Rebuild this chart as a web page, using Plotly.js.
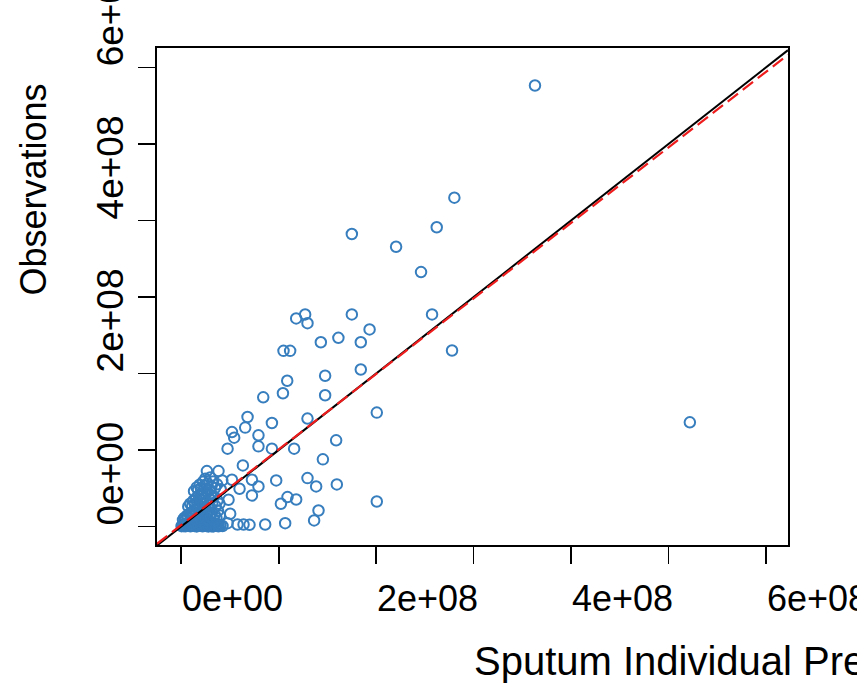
<!DOCTYPE html>
<html><head><meta charset="utf-8">
<script src="https://cdn.plot.ly/plotly-3.0.1.min.js"></script>
<style>html,body{margin:0;padding:0;background:#fff;overflow:hidden}#chart{width:857px;height:685px}</style>
</head><body><div id="chart"></div>
<script>
// Values in units of 1e8
const UNIT = 1e8;
const predX = [
 3.629,5.218,2.802,2.621,2.204,1.750,2.460,2.573,2.778,1.932,1.750,1.842,1.612,1.432,1.271,1.179,1.295,1.049,1.117,1.842,
 1.476,1.087,1.476,1.043,0.841,2.006,1.295,0.680,0.930,0.656,0.520,0.543,0.792,0.475,0.792,0.930,1.158,1.589,1.453,0.632,
 0.263,0.382,0.246,0.520,0.725,0.974,1.295,1.384,1.596,0.792,0.725,0.598,0.485,1.090,1.179,1.022,2.006,1.408,1.363,1.066,
 0.861,0.700,0.639,0.577,0.502,0.475,0.382,
 0.003,0.012,0.021,0.034,0.041,0.055,0.063,0.072,0.086,0.094,0.105,0.117,0.128,0.136,0.149,0.158,0.167,0.179,0.188,0.196,
 0.207,0.219,0.226,0.238,0.247,0.256,0.268,0.277,0.289,0.298,0.307,0.318,0.327,0.339,0.352,0.366,0.381,0.402,0.423,
 0.018,0.031,0.047,0.058,0.069,0.083,0.097,0.108,0.121,0.133,0.144,0.156,0.171,0.182,0.193,0.204,0.216,0.229,0.241,0.252,
 0.263,0.276,0.287,0.301,0.314,0.329,0.343,0.361,0.377,0.395,
 0.072,0.091,0.112,0.124,0.139,0.152,0.166,0.178,0.191,0.203,0.214,0.226,0.238,0.251,0.264,0.277,0.289,0.303,0.318,0.334,
 0.352,0.371,0.392,
 0.131,0.158,0.172,0.189,0.201,0.222,0.236,0.258,0.271,0.293,0.309,0.327,0.346,0.298,0.367,0.404,0.421
];
const obsY = [
 5.763,1.361,4.297,3.910,3.656,3.822,3.325,2.771,2.300,2.575,2.771,2.408,2.465,2.408,2.771,2.719,2.657,2.295,2.295,2.051,
 1.970,1.904,1.715,1.741,1.688,1.488,1.410,1.431,1.352,1.292,1.234,1.161,1.191,1.017,1.047,1.017,1.017,1.126,0.877,0.798,
 0.724,0.724,0.624,0.611,0.611,0.602,0.632,0.524,0.550,0.524,0.406,0.493,0.349,0.384,0.353,0.297,0.327,0.209,0.079,0.043,
 0.026,0.022,0.026,0.026,0.166,0.043,0.026,
 0.004,0.018,0.006,0.027,0.002,0.015,0.041,0.008,0.022,0.003,0.037,0.012,0.054,0.006,0.028,0.001,0.046,0.017,0.068,0.009,
 0.031,0.002,0.044,0.019,0.061,0.007,0.025,0.001,0.049,0.013,0.004,0.036,0.001,0.021,0.008,0.029,0.003,0.012,0.006,
 0.085,0.112,0.094,0.142,0.121,0.168,0.103,0.187,0.134,0.215,0.097,0.158,0.232,0.118,0.176,0.091,0.205,0.138,0.247,0.101,
 0.169,0.088,0.226,0.129,0.184,0.097,0.152,0.109,0.205,0.143,
 0.262,0.298,0.271,0.336,0.289,0.371,0.312,0.402,0.268,0.347,0.428,0.293,0.381,0.322,0.447,0.276,0.358,0.412,0.303,0.386,
 0.267,0.339,0.298,
 0.462,0.511,0.478,0.547,0.498,0.583,0.531,0.496,0.562,0.475,0.523,0.588,0.502,0.641,0.551,0.486,0.602
];
const tickValues = [0,1,2,3,4,5,6];
const labelValues = [0,2,4,6];
const labelTexts = ['0e+00','2e+08','4e+08','6e+08'];
const identityCoef = [0, 1];      // intercept (1e8), slope
const fitCoef = [0.02, 0.987];    // intercept (1e8), slope
const xTitle = 'Sputum Individual Predictions';
const yTitle = 'Observations';

const xRange = [-0.249*UNIT, 6.225*UNIT];
const yRange = [-0.242*UNIT, 6.253*UNIT];
const FONT = 'Liberation Sans, Arial, Helvetica, sans-serif';

function lineTrace(coef, style){
  const xs = [xRange[0], xRange[1]];
  return {x: xs, y: xs.map(v => coef[0]*UNIT + coef[1]*v), mode:'lines', line: style, hoverinfo:'skip', showlegend:false};
}

const traces = [
  {x: predX.map(v=>v*UNIT), y: obsY.map(v=>v*UNIT), mode:'markers', type:'scatter', showlegend:false,
   marker:{symbol:'circle-open', size:10.5, color:'rgb(55,126,190)', line:{width:2, color:'rgb(55,126,190)'}}},
  lineTrace(identityCoef, {color:'#000', width:2}),
  lineTrace(fitCoef, {color:'#ee1c1c', width:2.2, dash:'13px,6px'})
];

const plotW = 857-157-69;
const annotations = [];
labelValues.forEach((v,i)=>{
  annotations.push({x:v*UNIT, xref:'x', y:0, yref:'paper', xanchor:'left', yanchor:'middle', yshift:-(598-544.5),
    text:labelTexts[i], showarrow:false, borderpad:0, font:{family:FONT,size:36,color:'#000'}});
  annotations.push({x:-(157-110)/plotW, xref:'paper', y:v*UNIT, yref:'y', xanchor:'center', yanchor:'bottom', textangle:-90,
    text:labelTexts[i], showarrow:false, borderpad:0, font:{family:FONT,size:37,color:'#000'}});
});
annotations.push({x:0.5, xref:'paper', y:0, yref:'paper', xanchor:'left', yanchor:'middle', yshift:-(660-544.5),
  text:xTitle, showarrow:false, borderpad:0, font:{family:FONT,size:40,color:'#000'}});
annotations.push({x:-(157-33)/plotW, xref:'paper', y:0.5, yref:'paper', xanchor:'center', yanchor:'bottom', textangle:-90,
  text:yTitle, showarrow:false, borderpad:0, font:{family:FONT,size:36,color:'#000'}});

const axisCommon = {showgrid:false, zeroline:false, showline:true, mirror:true, linecolor:'#000', linewidth:1.6,
  ticks:'outside', ticklen:17, tickwidth:1.6, tickcolor:'#000', showticklabels:false, tickmode:'array', fixedrange:true};

const layout = {
  width:857, height:685, margin:{l:157, r:69, t:48, b:140, pad:0},
  paper_bgcolor:'#fff', plot_bgcolor:'#fff', showlegend:false,
  xaxis: Object.assign({}, axisCommon, {range:xRange, tickvals:tickValues.map(v=>v*UNIT)}),
  yaxis: Object.assign({}, axisCommon, {range:yRange, tickvals:tickValues.map(v=>v*UNIT)}),
  annotations: annotations
};

Plotly.newPlot('chart', traces, layout, {staticPlot:true, displayModeBar:false});
</script></body></html>
